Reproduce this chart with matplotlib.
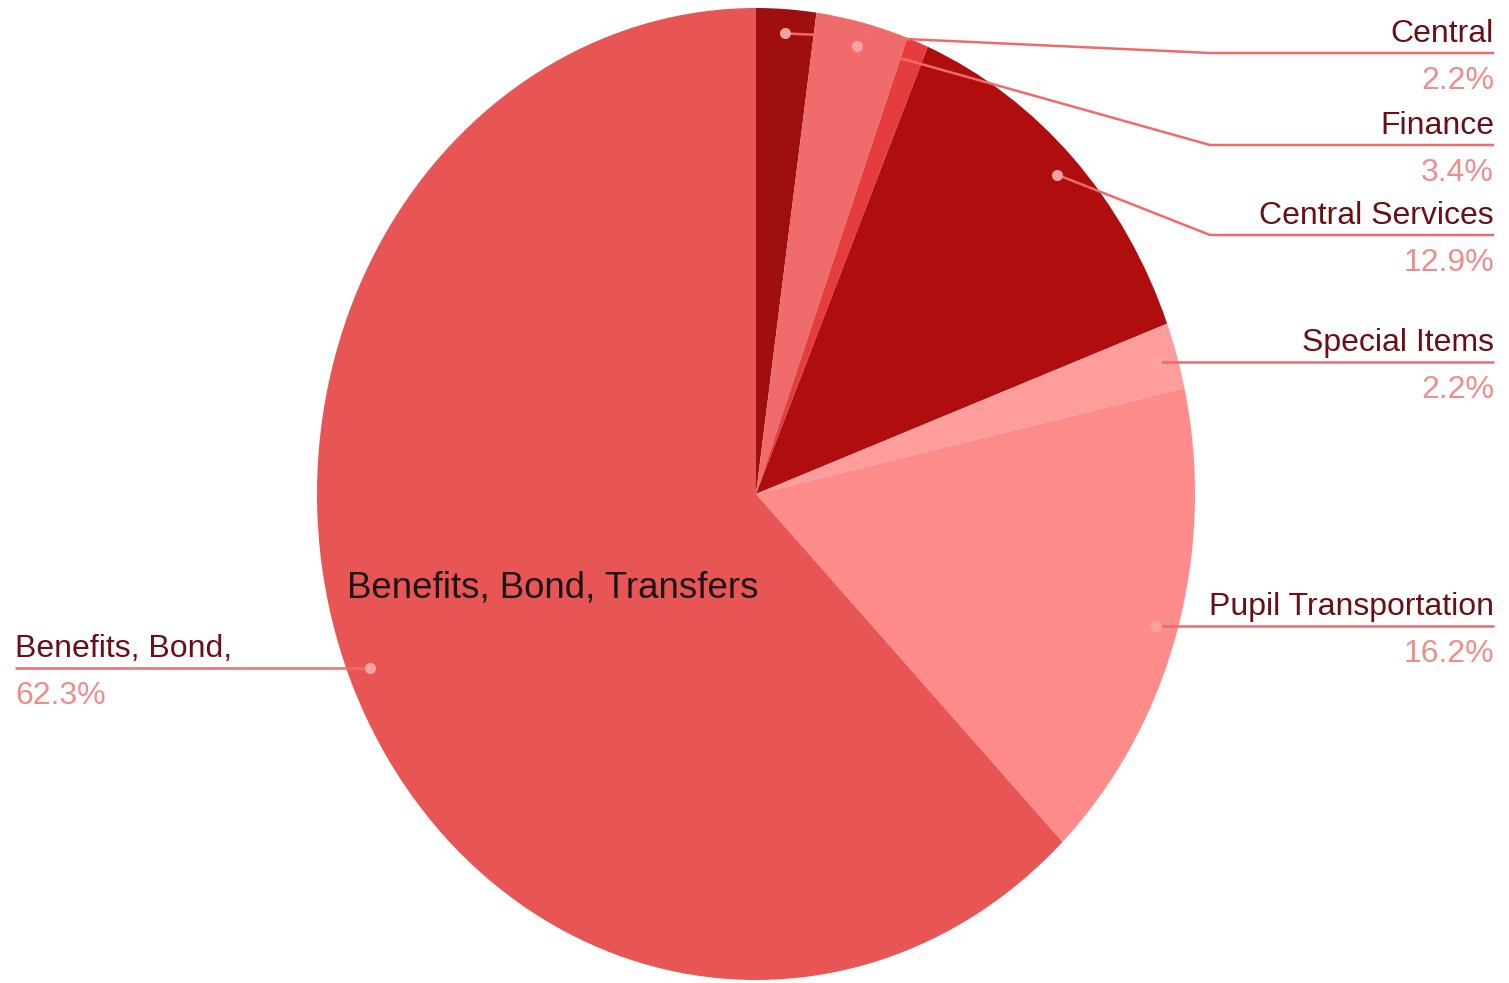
import numpy as np
import matplotlib
matplotlib.use("Agg")
import matplotlib.pyplot as plt

plt.rcParams['font.family'] = ['Liberation Sans', 'DejaVu Sans']

# ---- data ----
categories = ["Central", "Finance", "Other", "Central Services", "Special Items",
              "Pupil Transportation", "Benefits, Bond, Transfers"]
values = [2.2, 3.4, 0.8, 12.9, 2.2, 16.2, 62.3]
outside_labels = ["Central", "Finance", None, "Central Services", "Special Items",
                  "Pupil Transportation", "Benefits, Bond,"]
colors = ["#a00f0f", "#f06b6b", "#e53d3d", "#b00e0e", "#ff9c9c", "#ff8b8b", "#e85555"]

W, H = 1509, 983
fig = plt.figure(figsize=(W / 100, H / 100), dpi=100)

# pie axes (stretched ellipse like the reference)
ax_p = fig.add_axes([317 / W, 1 - 980 / H, 878 / W, 972 / H])
wedges, _ = ax_p.pie(values, colors=colors, startangle=90, counterclock=False,
                     radius=1, wedgeprops=dict(linewidth=0))
ax_p.set_aspect('auto')
ax_p.set_xlim(-1, 1)
ax_p.set_ylim(-1, 1)
ax_p.axis('off')

# overlay axes in pixel coordinates
ax_o = fig.add_axes([0, 0, 1, 1], zorder=5)
ax_o.set_xlim(0, W)
ax_o.set_ylim(H, 0)
ax_o.axis('off')
ax_o.patch.set_alpha(0)

name_color = "#6a0f16"
pct_color = "#f08c8c"
line_color = "#f06a6a"
dot_color = "#f7a3a3"
fs = 23

# layout: (line_y or None, bend_x or None, side)
layout = {
    "Central": (53, 1210, "right"),
    "Finance": (145, 1210, "right"),
    "Central Services": (235, 1210, "right"),
    "Special Items": (None, None, "right"),
    "Pupil Transportation": (None, None, "right"),
    "Benefits, Bond,": (None, None, "left"),
}

inv = ax_o.transData.inverted()
for w, v, lab in zip(wedges, values, outside_labels):
    if lab is None:
        continue
    mid = np.deg2rad((w.theta1 + w.theta2) / 2)
    px, py = inv.transform(ax_p.transData.transform((0.95 * np.cos(mid), 0.95 * np.sin(mid))))
    ly, bx, side = layout[lab]
    if ly is None:
        ly = py
    if side == "right":
        xe = 1494
        if bx is None:
            xs, ys = [px, xe], [py, ly]
        else:
            xs, ys = [px, bx, xe], [py, ly, ly]
        tx, ha = xe, "right"
    else:
        xe = 15
        xs, ys = [px, xe], [py, ly]
        tx, ha = xe, "left"
    ax_o.plot(xs, ys, color=line_color, lw=1.8, solid_capstyle='butt')
    ax_o.plot([px], [py], 'o', ms=8, color=dot_color, mec='none')
    ax_o.text(tx, ly - 11, lab, ha=ha, va='baseline', fontsize=fs, color=name_color)
    ax_o.text(tx, ly + 36, f"{v:.1f}%", ha=ha, va='baseline', fontsize=fs, color=pct_color)

# inner label for the largest slice
ax_o.text(347, 588, categories[-1], ha='left', va='center', fontsize=26.4, color="#1c1414")

fig.savefig("out.png", dpi=100)
